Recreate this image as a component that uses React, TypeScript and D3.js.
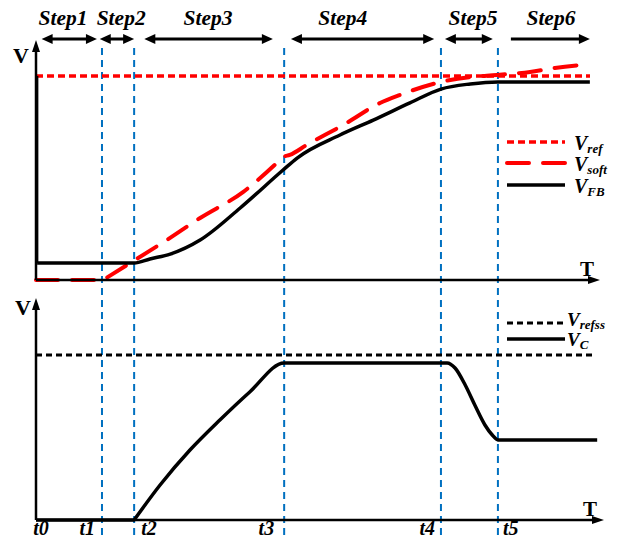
import React from 'react';
import * as d3 from 'd3';

// ---- data (time in arbitrary units, voltage normalised) ----
const tMarks = [0, 1.17, 1.74, 4.4, 7.18, 8.19];
const tLabels = ['t0', 't1', 't2', 't3', 't4', 't5'];

const stepNames = ['Step1', 'Step2', 'Step3', 'Step4', 'Step5', 'Step6'];
const stepStart = [0.1, 1.13, 1.92, 4.52, 7.25, 8.42];
const stepEnd = [1.08, 1.74, 4.2, 7.06, 8.1, 9.82];
const stepLabelPos = [0.48, 1.51, 3.05, 5.44, 7.75, 9.13];
const stepLeftHead = [true, true, true, true, true, false];

const vRef = 1.0;
const vRefss = 1.0;

const vfbT = [0.02, 0.02, 1.74, 2.02, 2.38, 2.91, 3.62, 4.38, 4.63, 5.39, 5.98, 6.63, 7.18, 7.7, 8.19, 9.82];
const vfbV = [1.0, 0.083, 0.083, 0.103, 0.127, 0.196, 0.353, 0.539, 0.598, 0.711, 0.784, 0.868, 0.936, 0.961, 0.971, 0.971];

const vsoftT = [0, 1.19, 2.32, 2.91, 3.67, 4.27, 4.38, 4.5, 4.8, 5.48, 6.1, 6.45, 7.18, 7.7, 8.17, 8.76, 9.2, 9.82];
const vsoftV = [0, 0, 0.196, 0.304, 0.431, 0.574, 0.603, 0.613, 0.662, 0.765, 0.868, 0.907, 0.971, 0.995, 1.005, 1.02, 1.039, 1.059];

const vcT = [0, 1.74, 2.2, 2.73, 3.26, 3.79, 4.4, 7.29, 7.43, 7.61, 7.78, 7.96, 8.09, 8.19, 9.95];
const vcV = [0, 0, 0.212, 0.424, 0.606, 0.776, 0.952, 0.952, 0.921, 0.818, 0.697, 0.576, 0.515, 0.485, 0.485];

const FONT = '"Liberation Serif", "Times New Roman", serif';
const BLUE = '#0070C0';
const RED = '#FF0000';

export default function App() {
  const x = d3.scaleLinear().domain([0, 10]).range([36, 600]);
  const yT = d3.scaleLinear().domain([0, 1]).range([280, 76]);
  const yB = d3.scaleLinear().domain([0, 1]).range([520, 355]);

  const lineTop = d3
    .line<[number, number]>()
    .x((d) => x(d[0]))
    .y((d) => yT(d[1]))
    .curve(d3.curveMonotoneX);
  const lineTopLin = d3
    .line<[number, number]>()
    .x((d) => x(d[0]))
    .y((d) => yT(d[1]));
  const lineBot = d3
    .line<[number, number]>()
    .x((d) => x(d[0]))
    .y((d) => yB(d[1]))
    .curve(d3.curveMonotoneX);
  const lineBotLin = d3
    .line<[number, number]>()
    .x((d) => x(d[0]))
    .y((d) => yB(d[1]));

  const vfbPts: [number, number][] = vfbT.map((t, i) => [t, vfbV[i]]);
  const vsoftPts: [number, number][] = vsoftT.map((t, i) => [t, vsoftV[i]]);
  const vcPts: [number, number][] = vcT.map((t, i) => [t, vcV[i]]);

  const vfbVert = lineTopLin(vfbPts.slice(0, 2)) as string;
  const vfbRest = lineTop(vfbPts.slice(1)) as string;

  // Vsoft: flat + straight ramp, then smooth
  const vsoftD = (lineTopLin(vsoftPts.slice(0, 3)) as string) + (lineTop(vsoftPts.slice(2)) as string).replace(/^M/, 'L');
  // VC: flat, then rise from t2
  const vcD = (lineBotLin(vcPts.slice(0, 2)) as string) + (lineBot(vcPts.slice(1)) as string).replace(/^M/, 'L');

  const labelAnchor = ['middle', 'end', 'start', 'end', 'end', 'start'];
  const labelDx = [5, -7, 7, -10, -6, 5];

  const arrowY = 39;

  return (
    <svg
      width={622}
      height={539}
      style={{ position: 'absolute', left: 0, top: 0, background: '#fff' }}
      fontFamily={FONT}
    >
      {/* Step arrows */}
      {stepNames.map((s, i) => {
        const x1 = x(stepStart[i]);
        const x2 = x(stepEnd[i]);
        const hl = 11;
        const hw = 5;
        return (
          <g key={s}>
            <line
              x1={stepLeftHead[i] ? x1 + hl - 1 : x1}
              x2={x2 - hl + 1}
              y1={arrowY}
              y2={arrowY}
              stroke="#000"
              strokeWidth={3}
            />
            <path d={`M${x2},${arrowY} L${x2 - hl},${arrowY - hw} L${x2 - hl},${arrowY + hw} Z`} fill="#000" />
            {stepLeftHead[i] && (
              <path d={`M${x1},${arrowY} L${x1 + hl},${arrowY - hw} L${x1 + hl},${arrowY + hw} Z`} fill="#000" />
            )}
            <text
              x={x(stepLabelPos[i])}
              y={25}
              textAnchor="middle"
              fontSize={22}
              fontWeight="bold"
              fontStyle="italic"
              textLength={49}
              lengthAdjust="spacingAndGlyphs"
            >
              {s}
            </text>
          </g>
        );
      })}

      {/* blue dashed time markers */}
      {tMarks.slice(1).map((t, i) => (
        <line
          key={'tm' + i}
          x1={x(t)}
          x2={x(t)}
          y1={48}
          y2={539}
          stroke={BLUE}
          strokeWidth={2}
          strokeDasharray="7 5"
        />
      ))}

      {/* ---------- Top chart ---------- */}
      <path
        d={vsoftD}
        fill="none"
        stroke={RED}
        strokeWidth={4}
        strokeDasharray="22 14"
        strokeLinecap="round"
      />
      <line
        x1={x(0)}
        x2={590}
        y1={yT(vRef)}
        y2={yT(vRef)}
        stroke={RED}
        strokeWidth={3.5}
        strokeDasharray="7 4"
      />
      <path d={vfbVert} fill="none" stroke="#000" strokeWidth={2.5} />
      <path d={vfbRest} fill="none" stroke="#000" strokeWidth={3.5} />

      {/* top axes */}
      <line x1={x(0)} x2={x(0)} y1={280} y2={50} stroke="#000" strokeWidth={2.5} />
      <path d={`M${x(0)},40 L${x(0) - 4},52 L${x(0) + 4},52 Z`} fill="#000" />
      <line x1={x(0)} x2={590} y1={280} y2={280} stroke="#000" strokeWidth={2.5} />
      <path d={`M600,280 L588,276 L588,284 Z`} fill="#000" />
      <text x={21} y={63} textAnchor="middle" fontSize={22} fontWeight="bold">V</text>
      <text x={587} y={276} textAnchor="middle" fontSize={21} fontWeight="bold">T</text>

      {/* top legend */}
      <line x1={507} x2={565} y1={142} y2={142} stroke={RED} strokeWidth={3.5} strokeDasharray="7 4" />
      <line x1={507} x2={565} y1={163} y2={163} stroke={RED} strokeWidth={4} strokeDasharray="22 14" strokeLinecap="round" />
      <line x1={507} x2={565} y1={185} y2={185} stroke="#000" strokeWidth={3.5} />
      <text x={574} y={150} fontSize={20} fontWeight="bold" fontStyle="italic">
        V<tspan fontSize={13} dy={3}>ref</tspan>
      </text>
      <text x={574} y={171} fontSize={20} fontWeight="bold" fontStyle="italic">
        V<tspan fontSize={13} dy={3}>soft</tspan>
      </text>
      <text x={574} y={193} fontSize={20} fontWeight="bold" fontStyle="italic">
        V<tspan fontSize={13} dy={3}>FB</tspan>
      </text>

      {/* ---------- Bottom chart ---------- */}
      <line
        x1={x(0)}
        x2={594}
        y1={yB(vRefss)}
        y2={yB(vRefss)}
        stroke="#000"
        strokeWidth={3}
        strokeDasharray="6 4"
      />
      <path d={vcD} fill="none" stroke="#000" strokeWidth={3.5} strokeLinejoin="round" />

      <line x1={x(0)} x2={x(0)} y1={520} y2={308} stroke="#000" strokeWidth={2.5} />
      <path d={`M${x(0)},298 L${x(0) - 4},310 L${x(0) + 4},310 Z`} fill="#000" />
      <line x1={x(0)} x2={594} y1={520} y2={520} stroke="#000" strokeWidth={2.5} />
      <path d={`M604,520 L592,516 L592,524 Z`} fill="#000" />
      <text x={23} y={315} textAnchor="middle" fontSize={22} fontWeight="bold">V</text>
      <text x={590} y={516} textAnchor="middle" fontSize={21} fontWeight="bold">T</text>

      {/* bottom legend */}
      <line x1={507} x2={565} y1={323} y2={323} stroke="#000" strokeWidth={3} strokeDasharray="6 4" />
      <line x1={507} x2={565} y1={339} y2={339} stroke="#000" strokeWidth={3.5} />
      <text x={567} y={326} fontSize={19} fontWeight="bold" fontStyle="italic">
        V<tspan fontSize={13} dy={3}>refss</tspan>
      </text>
      <text x={567} y={346} fontSize={19} fontWeight="bold" fontStyle="italic">
        V<tspan fontSize={13} dy={3}>C</tspan>
      </text>

      {/* time labels */}
      {tMarks.map((t, i) => (
        <text
          key={'tl' + i}
          x={x(t) + labelDx[i]}
          y={535}
          textAnchor={labelAnchor[i] as any}
          fontSize={20}
          fontWeight="bold"
          fontStyle="italic"
        >
          {tLabels[i]}
        </text>
      ))}
    </svg>
  );
}
